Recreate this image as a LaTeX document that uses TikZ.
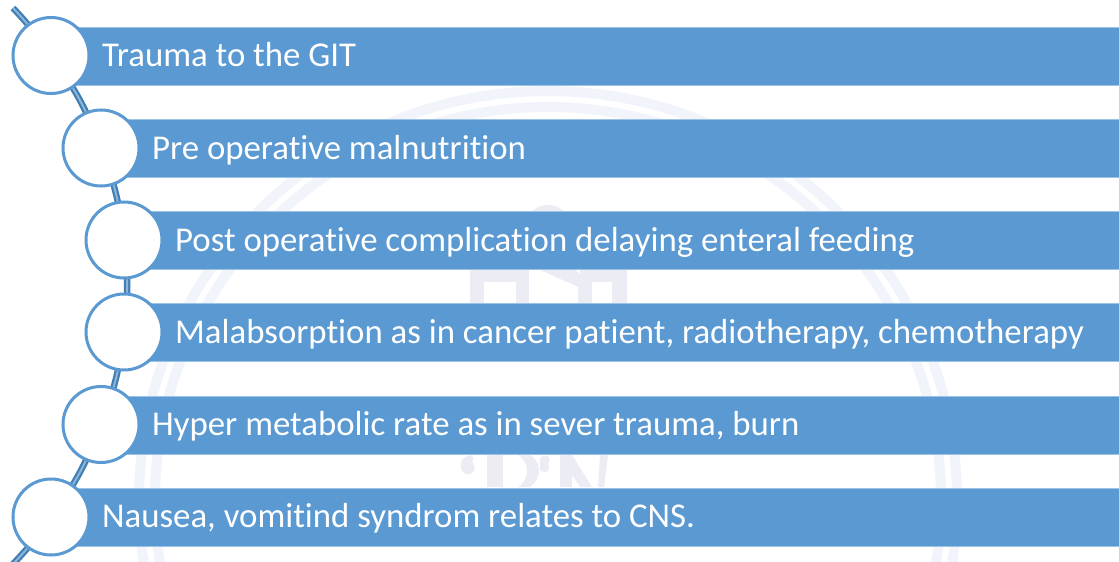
\documentclass[tikz,border=0pt]{standalone}
\usepackage{fontspec}
\setmainfont[Ligatures=CommonOff]{Carlito}
\definecolor{barblue}{HTML}{5A99D2}
\definecolor{baredge}{HTML}{9CC2E5}
\definecolor{linkblue}{HTML}{3F7FB5}
\definecolor{linkcore}{HTML}{8FB4D6}
\definecolor{markblue}{HTML}{F1F5FB}
\definecolor{markgrey}{HTML}{ECECF4}
\tikzset{
  barbox/.style={fill=barblue,draw=baredge,line width=0.8pt,minimum height=58pt,minimum width=1200pt,inner sep=0pt,anchor=west},
  bead/.style={circle,fill=white,draw=barblue,line width=3pt,minimum size=76pt,inner sep=0pt},
  link/.style={draw=linkblue,line width=2.2pt,double=linkcore,double distance=2pt},
  rowtext/.style={text=white,font=\fontsize{34.8}{40}\selectfont,anchor=base west,inner sep=0pt},
  ring/.style={draw=markblue,line width=10pt},
  crest/.style={fill=markgrey,draw=none}
}
\begin{document}
\begin{tikzpicture}[x=1pt,y=-1pt]
\useasboundingbox (0,0) rectangle (1119,562);
\clip (0,0) rectangle (1119,562);
\fill[white] (0,0) rectangle (1119,562);
% watermark
\draw[ring] (548,500) circle[radius=409];
\draw[ring] (548,500) circle[radius=393];
\fill[crest] (470,270) rectangle (484,303);
\fill[crest] (484,270) rectangle (520,282);
\fill[crest] (516,270) rectangle (529,303);
\fill[crest] (612,270) rectangle (627,303);
\fill[crest] (580,270) rectangle (627,282);
\fill[crest] (540,270) -- (590,292) -- (590,282) -- (575,270) -- cycle;
\fill[crest] (578,282) rectangle (592,303);
\fill[crest] (533,211) .. controls (540,203) and (556,203) .. (563,211) -- cycle;
\fill[crest] (462,460) .. controls (470,452) and (476,455) .. (472,462) .. controls (478,470) and (472,476) .. (466,474) .. controls (460,472) and (460,465) .. (462,460) -- cycle;
\fill[crest] (487,455) rectangle (503,487);
\fill[crest] (518,455) .. controls (530,462) and (530,480) .. (518,487) -- (530,487) .. controls (542,478) and (542,462) .. (530,455) -- cycle;
\fill[crest] (540,458) .. controls (548,452) and (552,458) .. (548,464) .. controls (552,472) and (544,474) .. (540,470) -- cycle;
\fill[crest] (560,455) rectangle (572,487);
\fill[crest] (572,475) -- (572,455) -- (592,487) -- (580,487) -- cycle;
\fill[crest] (600,455) -- (608,455) -- (604,487) -- (598,487) -- cycle;
% bars
\node[barbox] (b1) at (51,56) {};
\node[barbox] (b2) at (101,148.5) {};
\node[barbox] (b3) at (124,240.5) {};
\node[barbox] (b4) at (124,332.5) {};
\node[barbox] (b5) at (101,425) {};
\node[barbox] (b6) at (51,517) {};
% connectors
\coordinate (topend) at (13,8);
\coordinate (botend) at (13,564);
\coordinate (k1) at (51,55.5);
\coordinate (k2) at (101,148);
\coordinate (k3) at (124,240);
\coordinate (k4) at (124,332);
\coordinate (k5) at (101,424.5);
\coordinate (k6) at (51,517);
\draw[link] (topend) to[bend left=4.6] (k1);
\draw[link] (k1) to[bend left=7.8] (k2);
\draw[link] (k2) to[bend left=7] (k3);
\draw[link] (k3) to[bend left=6.8] (k4);
\draw[link] (k4) to[bend left=7] (k5);
\draw[link] (k5) to[bend left=7.8] (k6);
\draw[link] (k6) to[bend left=4.6] (botend);
% beads
\node[bead] (c1) at (k1) {};
\node[bead] (c2) at (k2) {};
\node[bead] (c3) at (k3) {};
\node[bead] (c4) at (k4) {};
\node[bead] (c5) at (k5) {};
\node[bead] (c6) at (k6) {};
% labels
\node[rowtext] (t1) at (102,66.5) {Trauma to the GIT};
\node[rowtext] (t2) at (152,159) {Pre operative malnutrition};
\node[rowtext] (t3) at (175,251) {Post operative complication delaying enteral feeding};
\node[rowtext] (t4) at (175,343) {Malabsorption as in cancer patient, radiotherapy, chemotherapy};
\node[rowtext] (t5) at (152,435.5) {Hyper metabolic rate as in sever trauma, burn};
\node[rowtext] (t6) at (102,527.5) {Nausea, vomitind syndrom relates to CNS.};
\end{tikzpicture}
\end{document}
